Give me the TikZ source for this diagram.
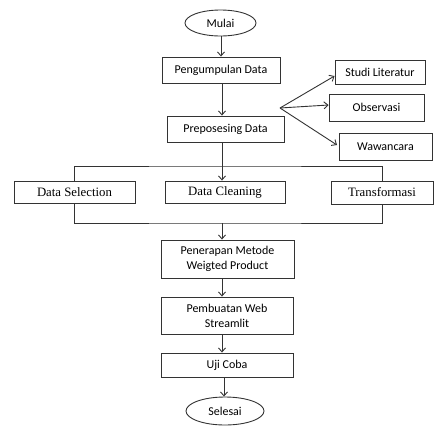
\documentclass[tikz,border=0pt]{standalone}
\usepackage{fontspec}
\setmainfont{Carlito}
\newfontfamily\timesf{Liberation Serif}
\usetikzlibrary{arrows.meta,shapes.geometric}
\begin{document}
\begin{tikzpicture}[x=1pt,y=-1pt,
  line width=0.9pt, draw=black!80,
  box/.style={draw, rectangle, inner sep=0pt, align=center, font=\fontsize{12}{15}\selectfont},
  tbox/.style={draw, rectangle, inner sep=0pt, align=center, font=\timesf\fontsize{12.8}{15}\selectfont},
  term/.style={draw, ellipse, inner sep=0pt, font=\fontsize{12}{14}\selectfont},
  arr/.style={-{Straight Barb[length=4pt,width=7pt]}}]
\useasboundingbox (0,0) rectangle (434,426);
\node[term, minimum width=71pt, minimum height=26pt] (mulai) at (220.5,23) {Mulai};
\node[box, minimum width=118pt, minimum height=26pt] (kumpul) at (221,70) {Pengumpulan Data};
\node[box, minimum width=117pt, minimum height=26pt] (prepro) at (225.5,129) {Preposesing Data};
\node[box, minimum width=90pt, minimum height=24pt] (studi) at (380,72) {Studi Literatur};
\node[box, minimum width=95pt, minimum height=27pt] (obs) at (376.5,107.5) {Observasi};
\node[box, minimum width=93pt, minimum height=27pt] (waw) at (385.5,146.5) {Wawancara};
\node[tbox, minimum width=121pt, minimum height=22pt] (sel) at (74.5,192) {Data Selection};
\node[tbox, minimum width=120pt, minimum height=22pt] (clean) at (225,192) {Data Cleaning};
\node[tbox, minimum width=102pt, minimum height=23pt] (trans) at (382,192.5) {Transformasi};
\node[box, minimum width=133pt, minimum height=38pt] (wp) at (227.5,259) {Penerapan Metode\\Weigted Product};
\node[box, minimum width=132pt, minimum height=37pt] (web) at (227,315.5) {Pembuatan Web\\Streamlit};
\node[box, minimum width=132pt, minimum height=24pt] (uji) at (227,365) {Uji Coba};
\node[term, minimum width=78pt, minimum height=28pt] (selesai) at (225,411) {Selesai};

\coordinate (br) at (280,108);
\coordinate (top) at (222,166);
\coordinate (bot) at (222,223);

\draw[arr] (mulai.south -| 221,0) -- (kumpul.north -| 221,0);
\draw[arr] (kumpul.south -| 222,0) -- (prepro.north -| 222,0);
\draw[arr] (br) -- (studi.south west |- 0,76);
\draw[arr] (br) -- (obs.west |- 0,105);
\draw[arr] (br) -- (337,145);
\draw (prepro.south -| top) -- (top);
\draw (sel.north) |- (top) -| (trans.north);
\draw[arr] (top) -- (clean.north -| top);
\draw (sel.south) |- (bot) -| (trans.south);
\draw[arr] (bot) -- (wp.north -| bot);
\draw[arr] (wp.south -| 222,0) -- (web.north -| 222,0);
\draw[arr] (web.south -| 222,0) -- (uji.north -| 222,0);
\draw[arr] (uji.south -| 224,0) -- (selesai.north -| 224,0);
\end{tikzpicture}
\end{document}
